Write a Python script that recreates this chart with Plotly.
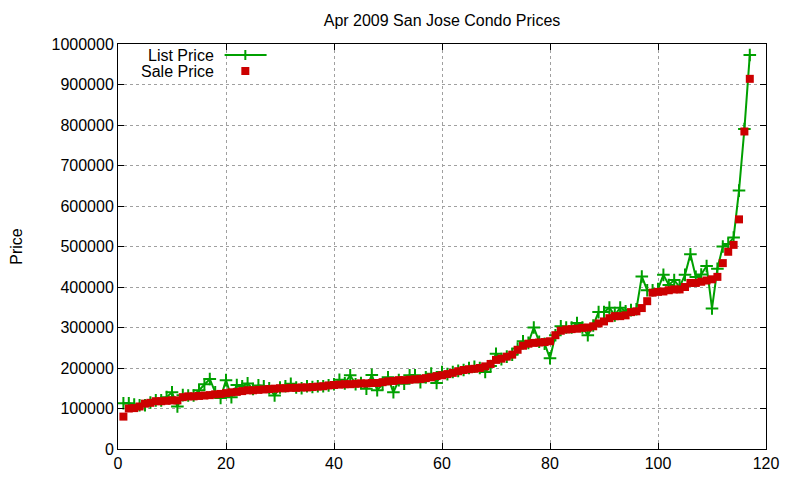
import plotly.graph_objects as go

# Data (index 1..117)
sale_price = [
    80000, 100000, 101000, 105000, 112000, 114000, 118000, 118000, 119000, 120000,
    120000, 128000, 130000, 130000, 131000, 132000, 133000, 135000, 136000, 138000,
    140000, 141000, 143000, 145000, 145000, 146000, 147000, 148000, 149000, 150000,
    150000, 151000, 151000, 152000, 152000, 153000, 154000, 155000, 157000, 158000,
    159000, 160000, 160000, 161000, 162000, 162000, 163000, 163000, 165000, 167000,
    168000, 170000, 170000, 171000, 172000, 173000, 175000, 177000, 180000, 182000,
    185000, 188000, 192000, 195000, 197000, 198000, 200000, 204000, 210000, 220000,
    223000, 228000, 233000, 245000, 255000, 260000, 262000, 263000, 264000, 266000,
    281000, 292000, 295000, 296000, 297000, 299000, 300000, 303000, 310000, 315000,
    323000, 328000, 328000, 330000, 338000, 340000, 348000, 365000, 386000, 388000,
    389000, 392000, 394000, 394000, 400000, 410000, 410000, 413000, 416000, 419000,
    425000, 459000, 487000, 504000, 567000, 784000, 914000,
]

list_price = [
    113000, 113000, 110000, 108000, 108000, 115000, 120000, 120000, 128000, 140000,
    105000, 133000, 132000, 132000, 145000, 160000, 173000, 140000, 126000, 170000,
    128000, 158000, 155000, 162000, 148000, 157000, 155000, 150000, 132000, 152000,
    155000, 161000, 152000, 150000, 155000, 153000, 155000, 155000, 157000, 160000,
    171000, 162000, 182000, 160000, 163000, 149000, 183000, 145000, 160000, 177000,
    140000, 170000, 161000, 182000, 182000, 165000, 177000, 186000, 163000, 190000,
    185000, 190000, 193000, 195000, 200000, 203000, 200000, 190000, 205000, 235000,
    222000, 228000, 233000, 248000, 266000, 262000, 300000, 265000, 260000, 224000,
    281000, 303000, 300000, 300000, 311000, 300000, 281000, 305000, 338000, 338000,
    349000, 330000, 349000, 340000, 343000, 345000, 426000, 392000, 392000, 395000,
    430000, 405000, 417000, 400000, 430000, 481000, 425000, 431000, 452000, 347000,
    445000, 500000, 506000, 522000, 638000, 790000, 973000,
]

index = list(range(1, len(sale_price) + 1))

GREEN = '#00a000'
RED = '#cc0000'
FONT = 'Liberation Sans, Arial, sans-serif'

fig = go.Figure()

# list price: line + crosses
fig.add_trace(go.Scatter(
    x=index, y=list_price, mode='lines+markers', name='List Price',
    line=dict(color=GREEN, width=2),
    marker=dict(symbol='cross-thin', size=9, line=dict(color=GREEN, width=2)),
))

# sale price: red squares on top
fig.add_trace(go.Scatter(
    x=index, y=sale_price, mode='markers', name='Sale Price',
    marker=dict(symbol='square', size=8, color=RED),
))

axis_common = dict(
    showline=True, linecolor='black', linewidth=1, mirror='ticks',
    ticks='inside', ticklen=6, tickcolor='black',
    showgrid=True, gridcolor='#a0a0a0', gridwidth=1, griddash='dot',
    zeroline=False, automargin=False,
    tickfont=dict(family=FONT, size=16, color='black'),
)

fig.update_xaxes(range=[0, 120], dtick=20, tick0=0, **axis_common)
fig.update_yaxes(range=[0, 1000000], dtick=100000, tick0=0, tickformat='d',
                 title=dict(text='Price', font=dict(family=FONT, size=16, color='black'), standoff=30),
                 **axis_common)

# gnuplot style key: text right-aligned, sample on the right
key_shapes = [
    dict(type='line', xref='paper', yref='paper', x0=0.1645, x1=0.2293, y0=0.9728, y1=0.9728,
         line=dict(color=GREEN, width=2)),
    dict(type='line', xref='paper', yref='paper', xsizemode='pixel', xanchor=0.1965,
         x0=-5, x1=5, y0=0.9728, y1=0.9728, line=dict(color=GREEN, width=2)),
    dict(type='line', xref='paper', yref='paper', ysizemode='pixel', yanchor=0.9728,
         x0=0.1965, x1=0.1965, y0=-5, y1=5, line=dict(color=GREEN, width=2)),
    dict(type='rect', xref='paper', yref='paper', xsizemode='pixel', ysizemode='pixel',
         xanchor=0.1965, yanchor=0.9333, x0=-4, x1=4, y0=-4, y1=4,
         fillcolor=RED, line=dict(width=0)),
]

key_text = [
    dict(text='List Price', xref='paper', yref='paper', x=0.1517, y=0.9728,
         xanchor='right', yanchor='middle', showarrow=False,
         font=dict(family=FONT, size=16, color='black')),
    dict(text='Sale Price', xref='paper', yref='paper', x=0.1517, y=0.9333,
         xanchor='right', yanchor='middle', showarrow=False,
         font=dict(family=FONT, size=16, color='black')),
]

# page body adds an 8px offset, so margins are shifted to compensate
fig.update_layout(
    width=800, height=480,
    margin=dict(l=110, r=42, t=36, b=39),
    title=dict(text='Apr 2009 San Jose Condo Prices', x=0.5, xref='paper', xanchor='center',
               y=1 - 12 / 480, yref='container', yanchor='middle',
               font=dict(family=FONT, size=16, color='black')),
    showlegend=False,
    shapes=key_shapes,
    annotations=key_text,
    plot_bgcolor='white',
    paper_bgcolor='white',
)

fig.write_html("out.html")
